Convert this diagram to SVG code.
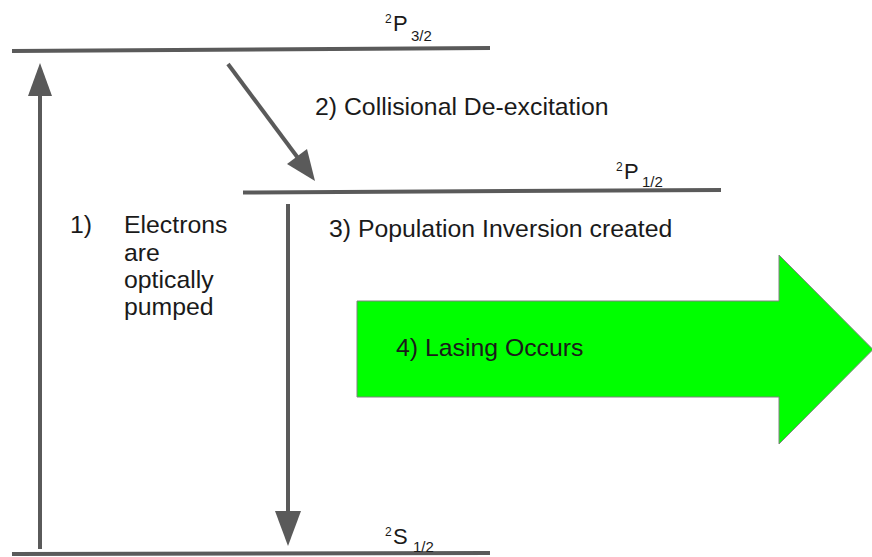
<svg xmlns="http://www.w3.org/2000/svg" width="872" height="557" viewBox="0 0 872 557">
<style>
.lvl{stroke:#5a5a5a;stroke-width:4;fill:none}
.ar{fill:#5a5a5a}
.t{font-family:"Liberation Sans",Arial,sans-serif;font-size:24.8px;fill:#1a1a1a}
.big{font-family:"Liberation Sans",Arial,sans-serif;font-size:22px;fill:#1a1a1a}
.sup{font-family:"Liberation Sans",Arial,sans-serif;font-size:12px;fill:#1a1a1a}
.sm{font-family:"Liberation Sans",Arial,sans-serif;font-size:15px;fill:#1a1a1a}
</style>
<rect width="872" height="557" fill="#ffffff"/>
<g id="level-P32">
<line class="lvl" x1="12" y1="51" x2="490" y2="48"/>
<text class="sup" x="385" y="23">2</text><text class="big" x="393" y="31">P</text><text class="sm" x="411" y="41">3/2</text>
</g>
<g id="level-P12">
<line class="lvl" x1="243" y1="192.5" x2="721" y2="190"/>
<text class="sup" x="616" y="171">2</text><text class="big" x="624" y="179">P</text><text class="sm" x="642" y="187">1/2</text>
</g>
<g id="level-S12">
<line class="lvl" x1="12" y1="554" x2="490" y2="553"/>
<text class="sup" x="385" y="536">2</text><text class="big" x="393" y="544">S</text><text class="sm" x="413" y="552">1/2</text>
</g>
<g id="connectors">
<line class="lvl" x1="40" y1="549" x2="40" y2="94"/>
<polygon class="ar" points="28,96 52,96 40,63"/>
<line class="lvl" x1="288" y1="204" x2="288" y2="513"/>
<polygon class="ar" points="275,511 301,511 288,546"/>
<line class="lvl" x1="228" y1="64" x2="298" y2="158"/>
<polygon class="ar" points="287,164 307,149 315,181"/>
</g>
<g id="label-1">
<text class="t" x="70" y="233">1)</text>
<text class="t" x="124" y="233">Electrons</text>
<text class="t" x="124" y="261">are</text>
<text class="t" x="124" y="288">optically</text>
<text class="t" x="124" y="315">pumped</text>
</g>
<g id="label-2"><text class="t" x="315" y="115">2) Collisional De-excitation</text></g>
<g id="label-3"><text class="t" x="329" y="237">3) Population Inversion created</text></g>
<g id="lasing">
<polygon points="357,301 779,301 779,255 873,349.5 779,444 779,397 357,397" fill="#00ff00" stroke="#808080" stroke-width="1"/>
<text class="t" x="396" y="356">4) Lasing Occurs</text>
</g>
</svg>
